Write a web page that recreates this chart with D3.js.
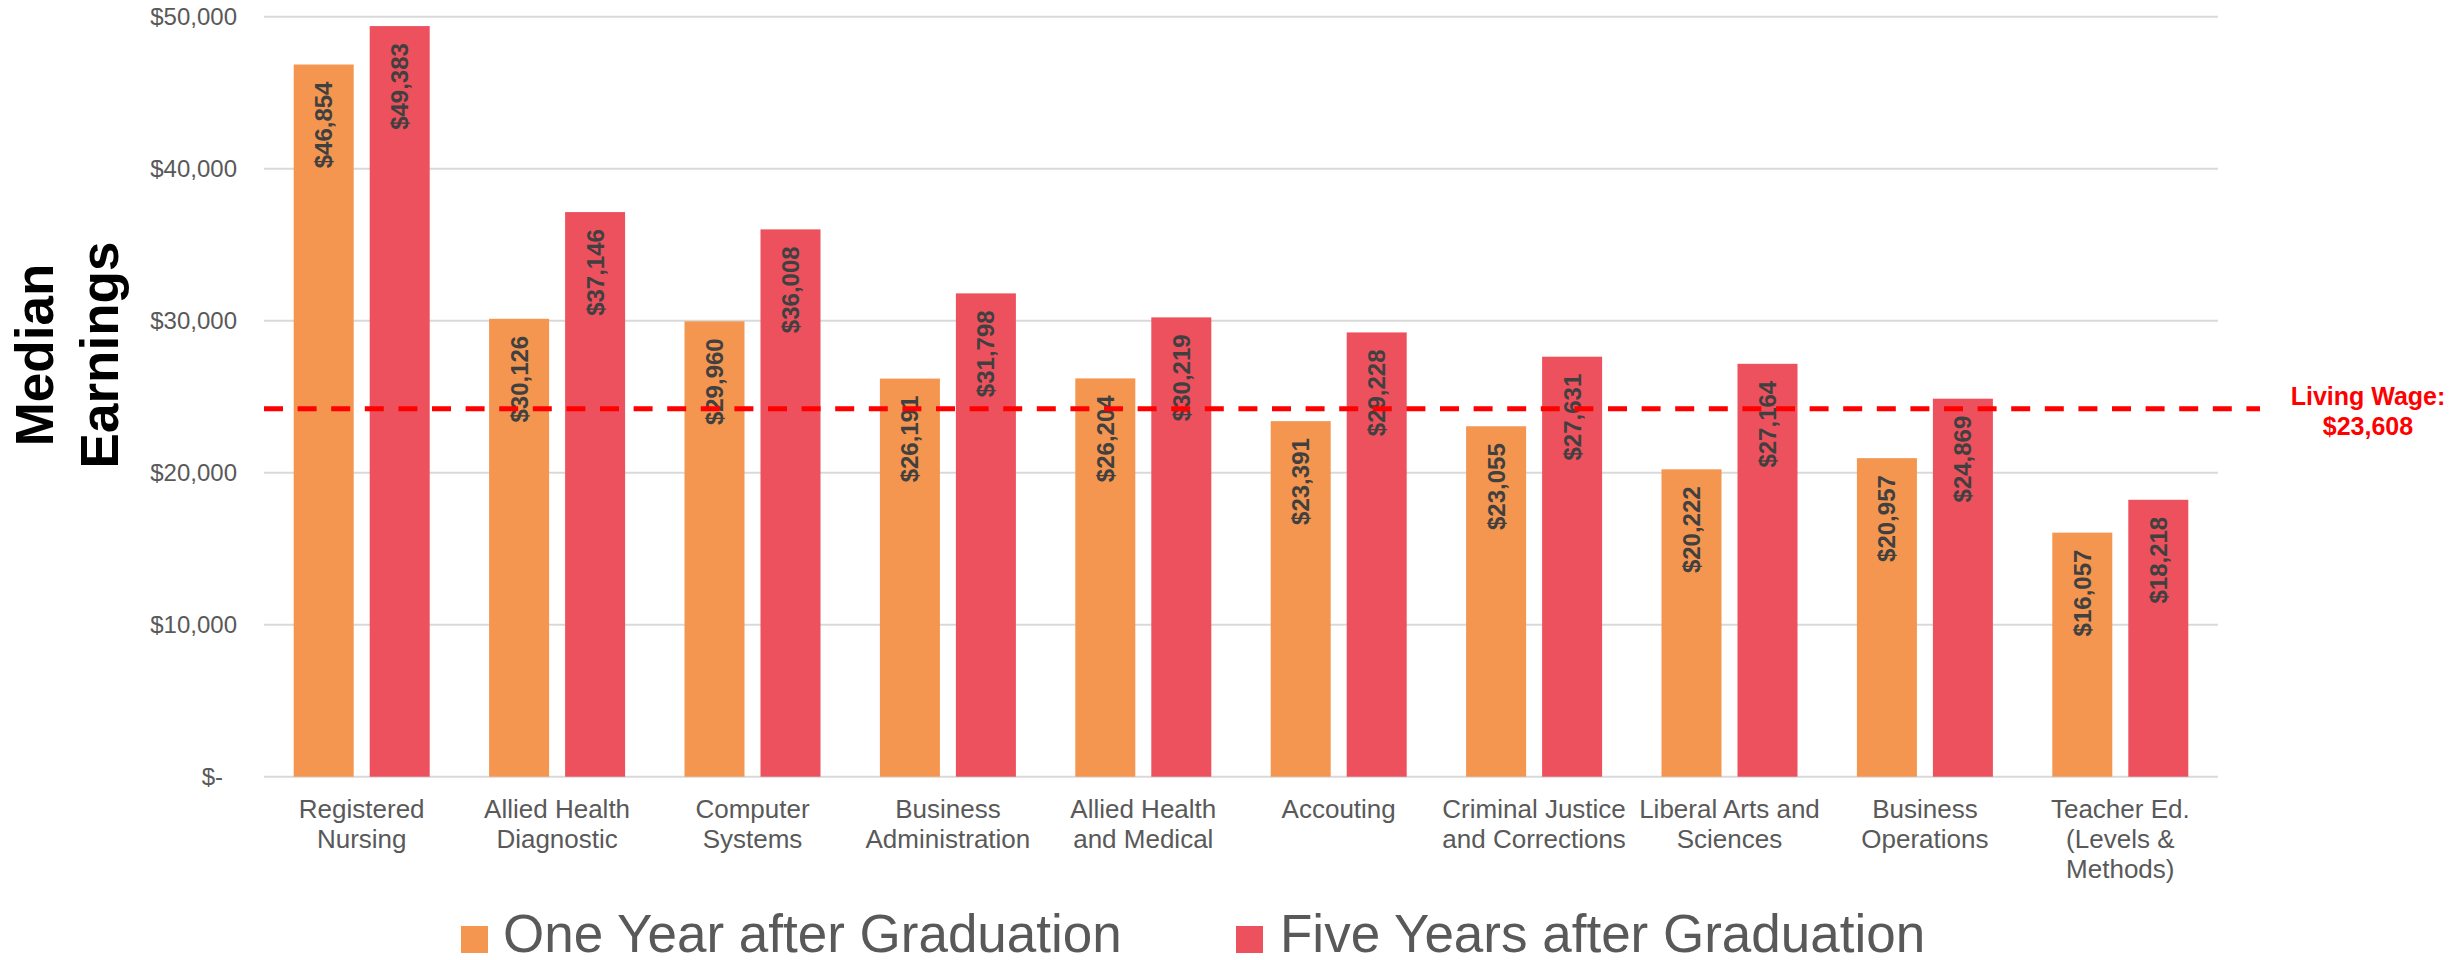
<!DOCTYPE html>
<html lang="en">
<head>
<meta charset="utf-8">
<title>Median Earnings by Program</title>
<script src="https://d3js.org/d3.v7.min.js"></script>
<style>
  body { margin: 0; background: #fff; }
  svg { display: block; font-family: "Liberation Sans", Arial, sans-serif; }
</style>
</head>
<body>
<svg id="chart" width="2458" height="960"></svg>
<script>
// data
var programs = [
  ['Registered', 'Nursing'],
  ['Allied Health', 'Diagnostic'],
  ['Computer', 'Systems'],
  ['Business', 'Administration'],
  ['Allied Health', 'and Medical'],
  ['Accouting'],
  ['Criminal Justice', 'and Corrections'],
  ['Liberal Arts and', 'Sciences'],
  ['Business', 'Operations'],
  ['Teacher Ed.', '(Levels &', 'Methods)']
];
var seriesNames = ['One Year after Graduation', 'Five Years after Graduation'];
var oneYear  = [46854, 30126, 29960, 26191, 26204, 23391, 23055, 20222, 20957, 16057];
var fiveYear = [49383, 37146, 36008, 31798, 30219, 29228, 27631, 27164, 24869, 18218];
var yTicks = [0, 10000, 20000, 30000, 40000, 50000];
var livingWageLabel = ['Living Wage:', '$23,608'];
var livingWageLevel = 24200;   // where the dashed line sits in the picture

var colors = ['#F4964F', '#EE515E'];

var svg = d3.select('#chart');
// note: "top" is taken by window.top, so use other names
var plotLeft = 264, plotRight = 2218, plotTop = 16.7, plotBottom = 776.7;

var x0 = d3.scaleBand().domain(d3.range(programs.length))
  .range([plotLeft, plotRight]).paddingInner(0.304).paddingOuter(0.152);
var x1 = d3.scaleBand().domain([0, 1])
  .range([0, x0.bandwidth()]).paddingInner(0.2105).paddingOuter(0);
var y = d3.scaleLinear().domain([0, 50000]).range([plotBottom, plotTop]);

// gridlines
svg.append('g')
  .selectAll('line')
  .data(yTicks)
  .enter()
  .append('line')
  .attr('x1', plotLeft).attr('x2', plotRight)
  .attr('y1', function(d) { return y(d); })
  .attr('y2', function(d) { return y(d); })
  .attr('stroke', '#d9d9d9')
  .attr('stroke-width', 2);

// y axis labels
var yAxis = svg.append('g')
  .attr('transform', 'translate(' + (plotLeft - 27) + ',0)')
  .call(d3.axisLeft(y).tickValues(yTicks).tickSize(0)
    .tickFormat(function(d) { return d === 0 ? '$-' : d3.format('$,')(d); }));
yAxis.select('.domain').remove();
yAxis.selectAll('text')
  .attr('x', function(d) { return d === 0 ? -14 : 0; })
  .attr('fill', '#595959')
  .style('font-size', '24px')
  .style('font-family', '"Liberation Sans", Arial, sans-serif');

// bars
var rows = programs.map(function(p, i) { return [oneYear[i], fiveYear[i]]; });
var groups = svg.append('g')
  .selectAll('g')
  .data(rows)
  .enter()
  .append('g')
  .attr('transform', function(d, i) { return 'translate(' + x0(i) + ',0)'; });

groups.selectAll('rect')
  .data(function(d) { return d; })
  .enter()
  .append('rect')
  .attr('x', function(d, j) { return x1(j); })
  .attr('y', function(d) { return y(d); })
  .attr('width', x1.bandwidth())
  .attr('height', function(d) { return y(0) - y(d); })
  .attr('fill', function(d, j) { return colors[j]; });

// rotated value labels
groups.selectAll('text')
  .data(function(d) { return d; })
  .enter()
  .append('text')
  .attr('transform', function(d, j) {
    return 'translate(' + (x1(j) + x1.bandwidth() / 2) + ',' + (y(d) + 17) + ') rotate(-90)';
  })
  .attr('dy', '0.35em')
  .attr('text-anchor', 'end')
  .attr('fill', '#404040')
  .style('font-size', '24px')
  .style('font-weight', 'bold')
  .text(function(d) { return d3.format('$,')(d); });

// category labels
var cats = svg.append('g')
  .selectAll('text')
  .data(programs)
  .enter()
  .append('text')
  .attr('x', function(d, i) { return x0(i) + x0.bandwidth() / 2; })
  .attr('y', 818)
  .attr('text-anchor', 'middle')
  .attr('fill', '#595959')
  .style('font-size', '26px');
cats.selectAll('tspan')
  .data(function(d) { return d; })
  .enter()
  .append('tspan')
  .attr('x', function() { return d3.select(this.parentNode).attr('x'); })
  .attr('dy', function(d, k) { return k === 0 ? 0 : 30; })
  .text(function(d) { return d; });

// living wage line
svg.append('line')
  .attr('x1', plotLeft).attr('x2', 2260)
  .attr('y1', y(livingWageLevel)).attr('y2', y(livingWageLevel))
  .attr('stroke', '#ff0000')
  .attr('stroke-width', 5)
  .attr('stroke-dasharray', '19,14.6');

svg.append('text')
  .attr('x', 2368)
  .attr('y', 405)
  .attr('text-anchor', 'middle')
  .attr('fill', '#ff0000')
  .style('font-size', '25px')
  .style('font-weight', 'bold')
  .selectAll('tspan')
  .data(livingWageLabel)
  .enter()
  .append('tspan')
  .attr('x', 2368)
  .attr('dy', function(d, k) { return k === 0 ? 0 : 30; })
  .text(function(d) { return d; });

// y axis title
svg.append('text')
  .attr('transform', 'translate(53,355) rotate(-90)')
  .attr('text-anchor', 'middle')
  .attr('fill', '#000')
  .style('font-size', '53px')
  .style('font-weight', 'bold')
  .selectAll('tspan')
  .data(['Median', 'Earnings'])
  .enter()
  .append('tspan')
  .attr('x', 0)
  .attr('dy', function(d, k) { return k === 0 ? 0 : 65; })
  .text(function(d) { return d; });

// legend
var legendX = [461, 1236];
var legend = svg.append('g')
  .selectAll('g')
  .data(seriesNames)
  .enter()
  .append('g')
  .attr('transform', function(d, i) { return 'translate(' + legendX[i] + ',926)'; });
legend.append('rect')
  .attr('width', 27).attr('height', 27)
  .attr('fill', function(d, i) { return colors[i]; });
legend.append('text')
  .attr('x', function(d, i) { return i === 0 ? 42 : 44; })
  .attr('y', 26)
  .attr('fill', '#595959')
  .style('font-size', '53px')
  .text(function(d) { return d; });
</script>
</body>
</html>
